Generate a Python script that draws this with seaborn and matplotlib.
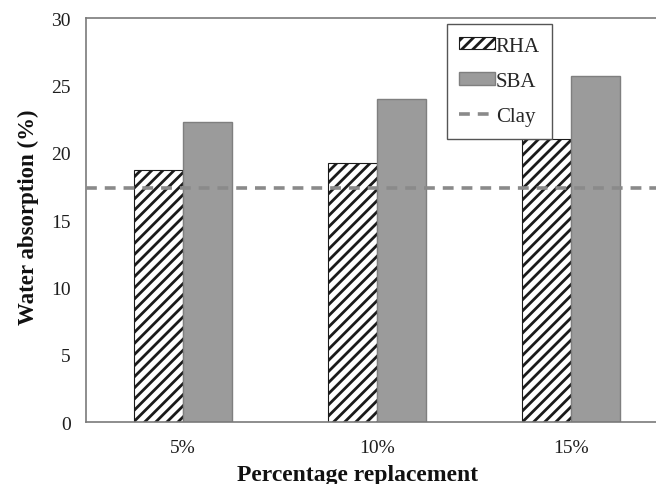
import seaborn as sns
import matplotlib.pyplot as plt
import pandas as pd
from matplotlib.patches import Patch
from matplotlib.lines import Line2D

# Data
replacement = ['5%', '10%', '15%']
rha = [18.7, 19.2, 21.0]
sba = [22.3, 24.0, 25.7]
clay = 17.4

dataset = pd.DataFrame({
    'Replacement': replacement * 2,
    'Absorption': rha + sba,
    'Material': ['RHA'] * 3 + ['SBA'] * 3,
})

sns.set_style('white')
plt.rcParams['font.family'] = ['Liberation Serif', 'DejaVu Serif']
plt.rcParams['hatch.linewidth'] = 2.0

fig = plt.figure(figsize=(6.56, 4.85), dpi=100)
ax = fig.add_axes([0.1311, 0.1278, 0.887, 0.833])

sns.barplot(data=dataset, x='Replacement', y='Absorption', hue='Material',
            palette={'RHA': 'white', 'SBA': '#9b9b9b'}, width=0.505, gap=0,
            saturation=1, ax=ax, legend=False)

# hatch the RHA bars, outline the SBA bars
for bar in ax.containers[0]:
    bar.set_hatch('///')
    bar.set_edgecolor('#1a1a1a')
    bar.set_linewidth(0.8)
for bar in ax.containers[1]:
    bar.set_edgecolor('#7f7f7f')
    bar.set_linewidth(1.0)

ax.axhline(clay, color='#8a8a8a', linestyle=(0, (3, 2.2)), linewidth=2.6, zorder=5)

ax.set_ylim(0, 30)
ax.set_xlim(-0.5, 2.5)
ax.set_yticks([0, 5, 10, 15, 20, 25, 30])
ax.tick_params(axis='both', length=0, labelsize=14, colors='#1e1e1e')
ax.tick_params(axis='y', pad=11)
ax.tick_params(axis='x', pad=12)

ax.set_xlabel('Percentage replacement', fontsize=17, fontweight='bold', color='#111111')
ax.set_ylabel('Water absorption (%)', fontsize=16.5, fontweight='bold', color='#111111')
ax.xaxis.set_label_coords(0.467, -0.105)
ax.yaxis.set_label_coords(-0.08, 0.51)

for side in ['left', 'bottom', 'top', 'right']:
    ax.spines[side].set_visible(True)
    ax.spines[side].set_color('#7a7a7a')
    ax.spines[side].set_linewidth(1.2)

handles = [
    Patch(facecolor='white', edgecolor='#1a1a1a', hatch='///', linewidth=0.8, label='RHA'),
    Patch(facecolor='#9b9b9b', edgecolor='#7f7f7f', linewidth=1.0, label='SBA'),
    Line2D([0], [0], color='#8a8a8a', linestyle=(0, (3, 2.2)), linewidth=2.6, label='Clay'),
]
leg = ax.legend(handles=handles, loc='upper left', bbox_to_anchor=(0.62, 0.985),
                fontsize=15, frameon=True, fancybox=False, framealpha=1,
                handlelength=1.7, handleheight=0.55, handletextpad=0.05,
                labelspacing=0.78, borderpad=0.6, borderaxespad=0)
leg.get_frame().set_edgecolor('#555555')
leg.get_frame().set_linewidth(1.0)

fig.savefig('out.png', dpi=100)
